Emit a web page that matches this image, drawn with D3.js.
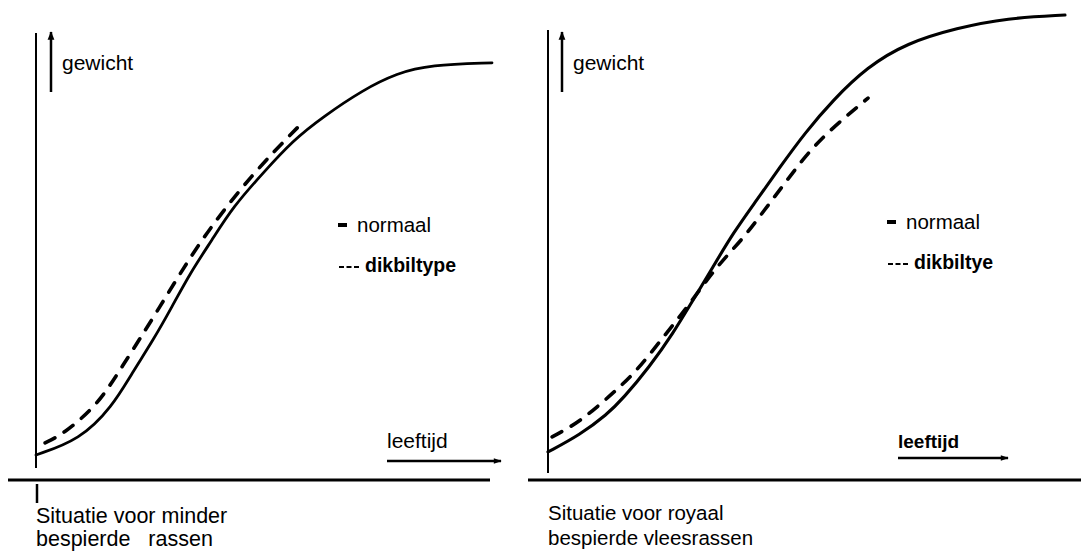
<!DOCTYPE html>
<html>
<head>
<meta charset="utf-8">
<script src="https://cdn.jsdelivr.net/npm/d3@7"></script>
<style>
  html, body { margin: 0; padding: 0; background: #fff; }
  svg { display: block; font-family: "Liberation Sans", Arial, Helvetica, sans-serif; }
</style>
</head>
<body>
<svg id="chart" width="1081" height="551"></svg>
<script>
// ---- data (arbitrary units: leeftijd 0..100, gewicht 0..~106) ----
const leftNormaalAge    = [0, 9.6, 16.7, 21.1, 25.7, 29.8, 33.8, 38.6, 43.2, 49.8, 56.4, 62.9, 71.7, 79.2, 86.4, 100];
const leftNormaalWeight = [3.5, 7.0, 14.7, 22.6, 30.2, 37.9, 45.8, 53.5, 61.2, 69.1, 76.7, 82.1, 88.4, 92.3, 94.2, 94.7];
const leftDikbilAge     = [2.0, 5.9, 13.4, 18.4, 27.2, 36.0, 47.6, 57.5];
const leftDikbilWeight  = [6.3, 8.3, 15.0, 23.2, 37.9, 53.5, 69.1, 79.8];

const rightNormaalAge    = [0, 6.2, 11.4, 14.5, 19.7, 24.2, 28.0, 31.9, 35.8, 40.4, 44.9, 49.7, 55.1, 61.7, 69.4, 79.1, 88.8, 100];
const rightNormaalWeight = [4.2, 8.2, 12.9, 16.6, 24.1, 31.8, 39.4, 47.2, 55.1, 62.8, 70.5, 78.4, 86.0, 93.7, 99.3, 102.8, 105.1, 105.8];
const rightDikbilAge     = [0.8, 6.2, 12.4, 17.0, 21.7, 27.1, 32.5, 37.9, 42.0, 45.6, 49.9, 54.9, 61.9];
const rightDikbilWeight  = [7.7, 11.2, 17.7, 22.8, 30.0, 38.1, 47.2, 54.0, 60.7, 66.3, 73.3, 79.5, 86.5];

const axisYLabel = "gewicht";
const axisXLabel = "leeftijd";
const leftLegend  = ["normaal", "dikbiltype"];
const rightLegend = ["normaal", "dikbiltye"];
const leftCaption  = ["Situatie voor minder", "bespierde\u00a0\u00a0 rassen"];
const rightCaption = ["Situatie voor royaal", "bespierde vleesrassen"];

const svg = d3.select("#chart");

const defs = svg.append("defs");
defs.append("marker")
  .attr("id", "ah").attr("viewBox", "0 0 10 10")
  .attr("refX", 9).attr("refY", 5)
  .attr("markerWidth", 5).attr("markerHeight", 3.2)
  .attr("markerUnits", "strokeWidth")
  .attr("orient", "auto")
  .append("path").attr("d", "M0,1.5 L10,5 L0,8.5 Z").attr("fill", "#000");
defs.append("marker")
  .attr("id", "ahUp").attr("viewBox", "0 0 10 10")
  .attr("refX", 9).attr("refY", 5)
  .attr("markerWidth", 5.5).attr("markerHeight", 3.4)
  .attr("markerUnits", "strokeWidth")
  .attr("orient", "auto")
  .append("path").attr("d", "M0,1 L10,5 L0,9 Z").attr("fill", "#000");

function panel(cfg) {
  const x = d3.scaleLinear().domain([0, 100]).range(cfg.xr);
  const y = d3.scaleLinear().domain([0, 100]).range([470, 40]);
  const g = svg.append("g");

  g.append("line")
    .attr("x1", cfg.xr[0]).attr("x2", cfg.xr[0])
    .attr("y1", cfg.axisTop).attr("y2", cfg.axisBottom)
    .attr("stroke", "#000").attr("stroke-width", 2);

  g.append("line")
    .attr("x1", cfg.base[0]).attr("x2", cfg.base[1])
    .attr("y1", 480).attr("y2", 480)
    .attr("stroke", "#000").attr("stroke-width", 3);

  g.append("line")
    .attr("x1", cfg.yArrowX).attr("x2", cfg.yArrowX)
    .attr("y1", 92).attr("y2", 32)
    .attr("stroke", "#000").attr("stroke-width", 2.5)
    .attr("marker-end", "url(#ahUp)");
  g.append("text")
    .attr("x", cfg.yArrowX + 11).attr("y", 70)
    .attr("font-size", 21).text(axisYLabel);

  g.append("line")
    .attr("x1", cfg.xArrow[0]).attr("x2", cfg.xArrow[1])
    .attr("y1", cfg.xArrowY).attr("y2", cfg.xArrowY)
    .attr("stroke", "#000").attr("stroke-width", 2.5)
    .attr("marker-end", "url(#ah)");
  g.append("text")
    .attr("x", cfg.xArrow[0]).attr("y", 448)
    .attr("font-size", cfg.xLabelBold ? 19 : 21)
    .attr("font-weight", cfg.xLabelBold ? "bold" : "normal")
    .text(axisXLabel);

  const line = d3.line().x(d => x(d[0])).y(d => y(d[1])).curve(d3.curveBasis);

  g.append("path")
    .datum(d3.zip(cfg.nAge, cfg.nW))
    .attr("d", line)
    .attr("fill", "none").attr("stroke", "#000")
    .attr("stroke-width", cfg.solidWidth).attr("stroke-linecap", "round");

  g.append("path")
    .datum(d3.zip(cfg.dAge, cfg.dW))
    .attr("d", line)
    .attr("fill", "none").attr("stroke", "#000")
    .attr("stroke-width", 3.6).attr("stroke-linecap", "round")
    .attr("stroke-dasharray", "11,11");

  const lx = cfg.legend.x, ly = cfg.legend.y;
  g.append("line")
    .attr("x1", lx).attr("x2", lx + 9)
    .attr("y1", ly - 7).attr("y2", ly - 7)
    .attr("stroke", "#000").attr("stroke-width", 4);
  g.append("text")
    .attr("x", lx + 19).attr("y", ly)
    .attr("font-size", 20.5).text(cfg.legendLabels[0]);
  g.append("line")
    .attr("x1", lx + 1).attr("x2", lx + 21)
    .attr("y1", ly + 35).attr("y2", ly + 35)
    .attr("stroke", "#000").attr("stroke-width", 2)
    .attr("stroke-dasharray", "5,2.5");
  g.append("text")
    .attr("x", lx + 27).attr("y", ly + 40)
    .attr("font-size", 19.5).attr("font-weight", "bold")
    .text(cfg.legendLabels[1]);

  g.selectAll("text.cap")
    .data(cfg.caption)
    .join("text")
    .attr("class", "cap")
    .attr("x", cfg.capX).attr("y", (d, i) => cfg.capY + i * cfg.capGap)
    .attr("font-size", cfg.capSize)
    .text(d => d);
}

panel({
  xr: [36, 492], axisTop: 33, axisBottom: 468, base: [8, 490],
  yArrowX: 51, xArrow: [387, 501], xArrowY: 461, xLabelBold: false,
  nAge: leftNormaalAge, nW: leftNormaalWeight, solidWidth: 2.8,
  dAge: leftDikbilAge, dW: leftDikbilWeight,
  legend: { x: 338, y: 232 }, legendLabels: leftLegend,
  caption: leftCaption, capX: 36, capY: 523, capGap: 23, capSize: 21.5
});

panel({
  xr: [548, 1065], axisTop: 30, axisBottom: 473, base: [528, 1081],
  yArrowX: 562, xArrow: [898, 1008], xArrowY: 458, xLabelBold: true,
  nAge: rightNormaalAge, nW: rightNormaalWeight, solidWidth: 3.1,
  dAge: rightDikbilAge, dW: rightDikbilWeight,
  legend: { x: 887, y: 229 }, legendLabels: rightLegend,
  caption: rightCaption, capX: 548, capY: 520, capGap: 25, capSize: 20.5
});

svg.append("line")
  .attr("x1", 37).attr("x2", 37).attr("y1", 484).attr("y2", 503)
  .attr("stroke", "#000").attr("stroke-width", 2.5);
</script>
</body>
</html>
